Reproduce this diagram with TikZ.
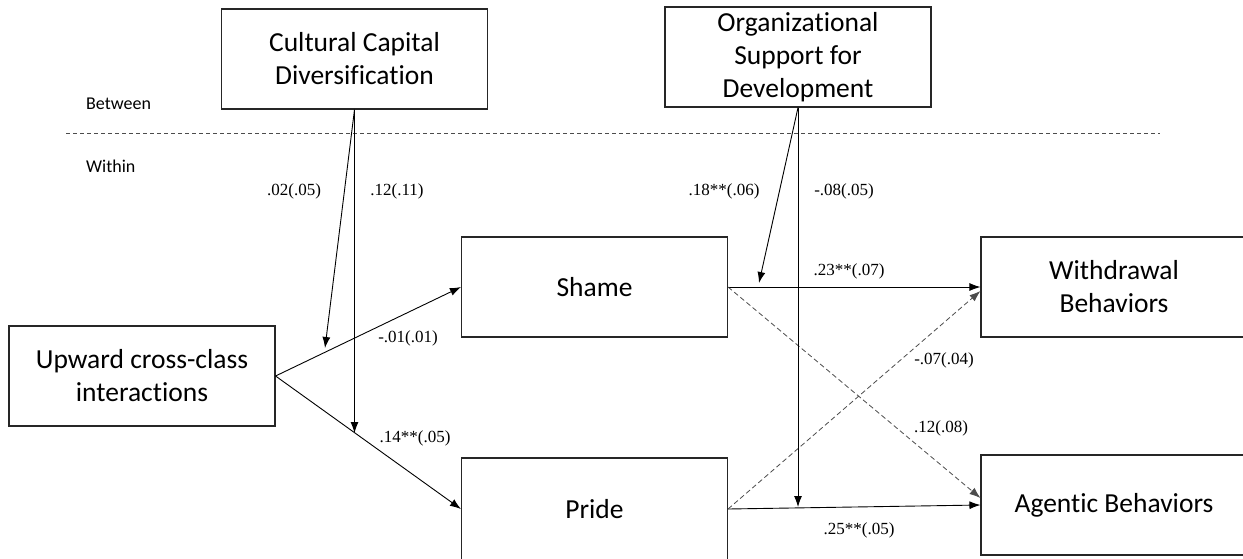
\documentclass[tikz,border=0pt]{standalone}
\usepackage{fontspec}
\setmainfont{Liberation Serif}
\newfontfamily\calibri[Ligatures=NoCommon]{Carlito}
\usetikzlibrary{arrows.meta,calc}
\begin{document}
\begin{tikzpicture}[x=1pt,y=-1pt,
  box/.style={draw=black!85,line width=1.1pt,inner sep=0pt,align=center,
    minimum width=266,minimum height=100,
    font=\calibri\fontsize{27.5}{33}\selectfont},
  effect/.style={line width=0.9pt,-{Latex[length=11pt,width=8pt]}},
  cross/.style={effect,draw=black!70,line width=0.8pt,dash pattern=on 5pt off 3pt},
  coef/.style={font=\fontsize{17}{19}\selectfont,inner sep=0pt},
  level/.style={font=\calibri\fontsize{18}{20}\selectfont,anchor=west,inner sep=0pt}]
\useasboundingbox (0,0) rectangle (1243,558);
\clip (0,0) rectangle (1243,558);
\fill[white] (0,0) rectangle (1243,558);

% level separator
\node[level] (between) at (86,104) {Between};
\node[level] (within) at (86,166) {Within};
\draw[black!70,line width=0.8pt,dash pattern=on 4pt off 3pt] (66,133) -- (1160,133);

% constructs
\node[box] (ccd) at (354.5,59) {Cultural Capital\\Diversification};
\node[box] (osd) at (798,57) {Organizational\\Support for\\Development};
\node[box] (up) at (142,376) {Upward cross-class\\interactions};
\node[box] (shame) at (594.5,287) {Shame};
\node[box,minimum height=102] (pride) at (594.5,509) {Pride};
\node[box] (wd) at (1114,287) {Withdrawal\\Behaviors};
\node[box] (ag) at (1114,505) {Agentic Behaviors};

% moderation targets on the paths
\coordinate (m1) at (325,348);
\coordinate (m2) at (354.5,433);
\coordinate (m3) at (759,283);
\coordinate (m4) at (798,507);

% first stage
\draw[effect] (up.east) -- (shame.west);
\draw[effect] (up.east) -- (pride.west);
\draw[effect] (ccd.south) -- (m1);
\draw[effect] (ccd.south) -- (m2);

% second stage
\draw[effect] (shame.east) -- (wd.west);
\draw[effect] (pride.east) -- (ag.west);
\draw[cross] (shame.east) -- ($(ag.west)+(0,-7)$);
\draw[cross] (pride.east) -- ($(wd.west)+(0,4)$);
\draw[effect] (osd.south) -- (m3);
\draw[effect] (osd.south) -- (m4);

% coefficients
\node[coef] (c1) at (294,191) {.02(.05)};
\node[coef] (c2) at (397,191) {.12(.11)};
\node[coef] (c3) at (724,191) {.18**(.06)};
\node[coef] (c4) at (844,191) {-.08(.05)};
\node[coef] (c5) at (849,271) {.23**(.07)};
\node[coef] (c6) at (408,338) {-.01(.01)};
\node[coef] (c7) at (415,438) {.14**(.05)};
\node[coef] (c8) at (944,360) {-.07(.04)};
\node[coef] (c9) at (941,428) {.12(.08)};
\node[coef] (c10) at (859,530) {.25**(.05)};
\end{tikzpicture}
\end{document}
